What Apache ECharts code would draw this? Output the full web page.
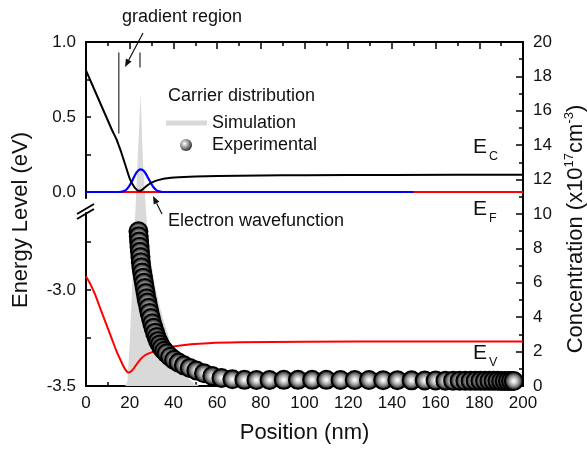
<!DOCTYPE html>
<html><head><meta charset="utf-8">
<script src="https://cdn.jsdelivr.net/npm/echarts@6/dist/echarts.min.js"></script>
<style>html,body{margin:0;padding:0;background:#fff}#c{width:587px;height:450px}</style>
</head><body><div id="c"></div>
<script>
const FONT = 'Arial, "Liberation Sans", Helvetica, sans-serif';
const TXT = '#111';

// Conduction band edge E_C (eV) vs position (nm)
const ecX = [0,3,6,9,12,14,15,16,18,20,22,23.5,24.5,26,28,30,33,38,45,50,60,80,100,140,200];
const ecE = [0.81,0.71,0.61,0.51,0.41,0.35,0.31,0.27,0.18,0.09,0.035,0.012,0.009,0.018,0.043,0.062,0.079,0.093,0.1,0.103,0.107,0.11,0.112,0.114,0.115];
// Fermi level E_F
const efX = [0,200];
const efE = [0,0];
// Electron wavefunction (drawn on E_F baseline)
const wX = [0,15,16,17,18,19,20,21,22,23,24,25,26,27,28,29,30,31,32,33,34,35,150];
const wE = [0,0,0.001,0.004,0.01,0.024,0.045,0.07,0.1,0.127,0.145,0.151,0.146,0.13,0.105,0.078,0.052,0.03,0.015,0.006,0.002,0,0];
// Valence band edge E_V
const evX = [0,2,4,6,8,10,12,14,16,18,19.5,21,23,25,27,30,33,36,40,48,56,70,100,150,200];
const evE = [-2.93,-2.97,-3.02,-3.08,-3.14,-3.2,-3.26,-3.32,-3.37,-3.415,-3.43,-3.42,-3.39,-3.36,-3.34,-3.325,-3.315,-3.305,-3.295,-3.283,-3.277,-3.273,-3.27,-3.268,-3.268];
// Simulated carrier distribution (x10^17 cm^-3)
const simX = [0,16,18,19,20,21,22,23,24,25,26,27,28,30,32,34,36,38,40,42,44,46,48,50,52,200];
const simC = [0,0,0,0.3,2.5,5.5,8.5,11.3,14.2,17,13.2,11,9.3,7,5.6,4.5,3.6,2.8,2.1,1.5,1.0,0.6,0.3,0.1,0,0];
// Experimental carrier distribution
const expX = [24.0,24.15,24.3,24.5,24.7,24.9,25.1,25.35,25.7,26.1,26.5,26.9,27.3,27.7,28.1,28.6,29.1,29.7,30.3,30.9,31.6,32.3,33.0,33.8,34.7,35.8,36.9,38.5,40.3,42.4,44.8,47.5,50.5,54,57.8,62,67,72.5,78,84,90.5,97,103.5,110,116.5,123,129.5,136,142.5,149,155,160,164.5,168,171,173.6,176,178.3,180.5,182.6,184.6,186.5,188.3,190,191.6,193.1,194.5,195.8];
const expC = [9.0,8.7,8.4,8.1,7.8,7.5,7.2,6.9,6.6,6.3,6.0,5.7,5.4,5.1,4.85,4.55,4.25,3.95,3.65,3.38,3.1,2.85,2.62,2.42,2.22,2.05,1.9,1.7,1.52,1.36,1.2,1.05,0.9,0.74,0.58,0.47,0.39,0.36,0.35,0.35,0.36,0.36,0.36,0.36,0.35,0.35,0.35,0.34,0.34,0.33,0.32,0.32,0.31,0.31,0.31,0.3,0.3,0.3,0.3,0.3,0.3,0.3,0.3,0.29,0.29,0.29,0.29,0.29];
// Gradient region markers
const gradX = [15, 24.7];
const gradTop = [0.93, 0.93];
const gradBottom = [0.39, 0.83];
// Tick labels
const upperTicks = [0,0.25,0.5,0.75,1.0];
const upperLabels = [0,0.5,1.0];
const lowerTicks = [-3.5,-3.25,-3.0,-2.75];
const lowerLabels = [-3.5,-3.0];

const zip = (xs, ys) => xs.map((x, i) => [x, ys[i]]);
const tickFont = {fontFamily: FONT, fontSize: 17, color: TXT};
const axLine = {show: true, onZero: false, lineStyle: {color: '#000', width: 2}};
const tickSt = {color: '#000', width: 1.5};

const ballGrad = {type: 'radial', x: 0.5, y: 0.5, r: 0.5, colorStops: [
  {offset: 0, color: '#ffffff'}, {offset: 0.2, color: '#e2e2e2'},
  {offset: 0.5, color: '#9a9a9a'}, {offset: 0.78, color: '#3c3c3c'}, {offset: 1, color: '#000'}]};

function arrow(x1, y1, x2, y2) {
  const dx = x2 - x1, dy = y2 - y1, L = Math.hypot(dx, dy), ux = dx / L, uy = dy / L;
  const hl = 8, hw = 3.2, bx = x2 - ux * hl, by = y2 - uy * hl;
  return [
    {type: 'line', z: 100, shape: {x1, y1, x2: bx, y2: by}, style: {stroke: '#111', lineWidth: 1.2}},
    {type: 'polygon', z: 100, shape: {points: [[x2, y2], [bx - uy * hw, by + ux * hw], [bx + uy * hw, by - ux * hw]]}, style: {fill: '#111'}}
  ];
}
function txt(x, y, text, size, extra) {
  return Object.assign({type: 'text', z: 100, x, y, style: {text, fontFamily: FONT, fontSize: size, fill: TXT, align: 'left', verticalAlign: 'middle'}}, extra || {});
}

const chart = echarts.init(document.getElementById('c'));
const option = {
  animation: false,
  grid: [
    {left: 86, right: 64, top: 42, bottom: 64},
    {left: 86, right: 64, top: 42, height: 156},
    {left: 86, right: 64, top: 213, height: 173}
  ],
  xAxis: [
    {gridIndex: 0, type: 'value', min: 0, max: 200, interval: 20, position: 'bottom',
     axisLine: axLine, axisTick: {inside: true, length: 7, lineStyle: tickSt},
     minorTick: {show: true, splitNumber: 2, length: 4, lineStyle: tickSt},
     axisLabel: Object.assign({margin: 9}, tickFont), splitLine: {show: false},
     name: 'Position (nm)', nameLocation: 'middle', nameGap: 36,
     nameTextStyle: {fontFamily: FONT, fontSize: 22, color: TXT}},
    {gridIndex: 0, type: 'value', min: 0, max: 200, interval: 20, position: 'top',
     axisLine: axLine, axisTick: {inside: true, length: 7, lineStyle: tickSt},
     minorTick: {show: true, splitNumber: 2, length: 4, lineStyle: tickSt},
     axisLabel: {show: false}, splitLine: {show: false}},
    {gridIndex: 1, type: 'value', min: 0, max: 200, show: false},
    {gridIndex: 2, type: 'value', min: 0, max: 200, show: false}
  ],
  yAxis: [
    {gridIndex: 0, type: 'value', min: 0, max: 20, interval: 2, position: 'right',
     axisLine: axLine, axisTick: {inside: true, length: 7, lineStyle: tickSt},
     minorTick: {show: true, splitNumber: 2, length: 4, lineStyle: tickSt},
     axisLabel: Object.assign({margin: 10}, tickFont), splitLine: {show: false}},
    {gridIndex: 1, type: 'value', min: -0.04, max: 1.0, position: 'left',
     axisLine: axLine, axisTick: {inside: true, length: 5, lineStyle: tickSt, customValues: upperTicks},
     axisLabel: Object.assign({margin: 10, customValues: upperLabels, formatter: v => v.toFixed(1)}, tickFont),
     splitLine: {show: false}},
    {gridIndex: 2, type: 'value', min: -3.5, max: -2.6, position: 'left',
     axisLine: axLine, axisTick: {inside: true, length: 5, lineStyle: tickSt, customValues: lowerTicks},
     axisLabel: Object.assign({margin: 10, customValues: lowerLabels, formatter: v => v.toFixed(1)}, tickFont),
     splitLine: {show: false}}
  ],
  series: [
    {name: 'Simulation', type: 'line', xAxisIndex: 0, yAxisIndex: 0, data: zip(simX, simC), symbol: 'none',
     lineStyle: {width: 0}, areaStyle: {color: '#d9d9d9', opacity: 1}, z: 1, silent: true},
    {name: 'EV', type: 'line', xAxisIndex: 3, yAxisIndex: 2, data: zip(evX, evE), symbol: 'none', smooth: 0.3,
     lineStyle: {color: '#ff0000', width: 2}, z: 3, clip: false},
    {name: 'EF', type: 'line', xAxisIndex: 2, yAxisIndex: 1, data: zip(efX, efE), symbol: 'none',
     lineStyle: {color: '#ff0000', width: 2.2}, z: 3, clip: false},
    {name: 'Wavefunction', type: 'line', xAxisIndex: 2, yAxisIndex: 1, data: zip(wX, wE), symbol: 'none', smooth: 0.3,
     lineStyle: {color: '#0000ff', width: 2.2}, z: 4, clip: false},
    {name: 'EC', type: 'line', xAxisIndex: 2, yAxisIndex: 1, data: zip(ecX, ecE), symbol: 'none', smooth: 0.15,
     lineStyle: {color: '#000', width: 2}, z: 4, clip: false},
    {name: 'grad1', type: 'line', xAxisIndex: 2, yAxisIndex: 1, data: [[gradX[0], gradTop[0]], [gradX[0], gradBottom[0]]],
     symbol: 'none', lineStyle: {color: '#555', width: 1.5}, z: 4},
    {name: 'grad2', type: 'line', xAxisIndex: 2, yAxisIndex: 1, data: [[gradX[1], gradTop[1]], [gradX[1], gradBottom[1]]],
     symbol: 'none', lineStyle: {color: '#555', width: 1.5}, z: 4},
    {name: 'Experimental', type: 'scatter', xAxisIndex: 0, yAxisIndex: 0, data: zip(expX, expC), symbolSize: 18,
     itemStyle: {color: ballGrad, borderColor: '#000', borderWidth: 2, opacity: 1}, z: 6}
  ],
  graphic: [
    {type: 'line', z: 100, shape: {x1: 77, y1: 219, x2: 94, y2: 209}, style: {stroke: '#000', lineWidth: 2}},
    {type: 'line', z: 100, shape: {x1: 77, y1: 214, x2: 94, y2: 204}, style: {stroke: '#000', lineWidth: 2}},
    {type: 'text', z: 100, x: 21, y: 220, rotation: Math.PI / 2,
     style: {text: 'Energy Level (eV)', fontFamily: FONT, fontSize: 22, fill: TXT, align: 'center', verticalAlign: 'middle'}},
    {type: 'text', z: 100, x: 576, y: 229, rotation: Math.PI / 2,
     style: {text: '{n|Concentration (x10}{s|17}{n|cm}{s|-3}{n|)}', align: 'center', verticalAlign: 'middle',
       rich: {n: {fontFamily: FONT, fontSize: 22, fill: TXT, lineHeight: 26},
              s: {fontFamily: FONT, fontSize: 13, fill: TXT, verticalAlign: 'top', lineHeight: 14}}}},
    txt(122, 17, 'gradient region', 18),
    ...arrow(143, 33, 125, 67),
    txt(168, 96, 'Carrier distribution', 18),
    {type: 'rect', z: 100, shape: {x: 166, y: 120.5, width: 41, height: 5}, style: {fill: '#d9d9d9'}},
    txt(212, 123.5, 'Simulation', 18),
    {type: 'circle', z: 100, shape: {cx: 186, cy: 145, r: 6},
     style: {fill: {type: 'radial', x: 0.38, y: 0.38, r: 0.65, colorStops: [{offset: 0, color: '#fff'}, {offset: 0.5, color: '#9a9a9a'}, {offset: 1, color: '#2a2a2a'}]}}},
    txt(212, 145, 'Experimental', 18),
    txt(168, 221, 'Electron wavefunction', 18),
    ...arrow(162, 214, 153, 196),
    txt(473, 147, 'E', 21), txt(489, 157, 'C', 12.5),
    txt(473, 209, 'E', 21), txt(489, 219, 'F', 12.5),
    txt(473, 353, 'E', 21), txt(489, 363, 'V', 12.5)
  ]
};
chart.setOption(option);
</script></body></html>
